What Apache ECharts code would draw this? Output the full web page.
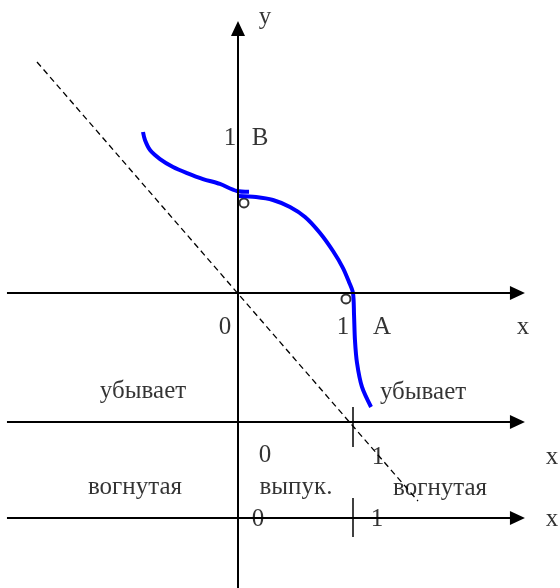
<!DOCTYPE html>
<html>
<head>
<meta charset="utf-8">
<script src="https://cdn.jsdelivr.net/npm/echarts@6/dist/echarts.min.js"></script>
<style>
  html, body { margin: 0; padding: 0; background: #fff; }
  #main { width: 560px; height: 588px; }
</style>
</head>
<body>
<div id="main"></div>
<script>
// picture scale: 1 unit = 115 px, origin of the main axes at (238, 293)
var UNIT = 115;
var ORIGIN = [238, 293];
var W = 560, H = 588;

// curve branches (x, y)
var leftBranch = [
    [-0.826, 1.400], [-0.809, 1.330], [-0.765, 1.243], [-0.678, 1.165],
    [-0.565, 1.096], [-0.443, 1.043], [-0.304, 0.991], [-0.157, 0.948],
    [-0.009, 0.887], [0.096, 0.880]
];
var rightBranch = [
    [0, 0.843], [0.157, 0.835], [0.304, 0.809], [0.452, 0.748],
    [0.583, 0.661], [0.713, 0.522], [0.826, 0.365], [0.913, 0.217],
    [0.965, 0.096], [1.0, 0], [1.009, -0.191], [1.017, -0.409],
    [1.035, -0.609], [1.078, -0.817], [1.157, -0.991]
];
// open circles
var holes = [[0.052, 0.783], [0.939, -0.052]];
// asymptote y = -x (as drawn)
var asymptote = [[-1.748, 2.009], [1.565, -1.809]];

// axes: main, sign row of y', sign row of y''
var axisRows = [0, -1.122, -1.957];
var axisLeft = -2.009;
var axisRight = 2.43;
var yAxisTop = 2.3;
var tickRows = [[-0.991, -1.339], [-1.783, -2.122]];

// text labels [x, y, text]
var labels = [
    [0.235, 2.40, 'y'],
    [-0.070, 1.348, '1'], [0.191, 1.348, 'B'],
    [-0.113, -0.296, '0'], [0.913, -0.296, '1'], [1.252, -0.296, 'A'], [2.478, -0.296, 'x'],
    [-0.826, -0.852, 'убывает'], [1.609, -0.861, 'убывает'],
    [0.235, -1.409, '0'], [1.217, -1.426, '1'], [2.730, -1.426, 'x'],
    [-0.896, -1.687, 'вогнутая'], [0.504, -1.687, 'выпук.'], [1.757, -1.696, 'вогнутая'],
    [0.174, -1.965, '0'], [1.209, -1.965, '1'], [2.730, -1.965, 'x']
];

var axisLines = axisRows.map(function (y) {
    return [{ coord: [axisLeft, y] }, { coord: [axisRight, y] }];
});
axisLines.push([{ coord: [0, -(H - ORIGIN[1]) / UNIT] }, { coord: [0, yAxisTop] }]);

var tickLines = tickRows.map(function (t) {
    return [{ coord: [1, t[0]] }, { coord: [1, t[1]] }];
});

var chart = echarts.init(document.getElementById('main'));
var option = {
    animation: false,
    grid: { left: 0, right: 0, top: 0, bottom: 0 },
    xAxis: {
        type: 'value',
        min: -ORIGIN[0] / UNIT,
        max: (W - ORIGIN[0]) / UNIT,
        show: false
    },
    yAxis: {
        type: 'value',
        min: -(H - ORIGIN[1]) / UNIT,
        max: ORIGIN[1] / UNIT,
        show: false
    },
    series: [
        {
            name: 'asymptote',
            type: 'line',
            data: asymptote,
            symbol: 'none',
            silent: true,
            lineStyle: { color: '#000', width: 1.3, type: [6, 4] }
        },
        {
            name: 'axes',
            type: 'line',
            data: [],
            silent: true,
            markLine: {
                silent: true,
                animation: false,
                symbol: ['none', 'triangle'],
                symbolSize: [14, 15],
                label: { show: false },
                lineStyle: { color: '#000', width: 2, type: 'solid' },
                emphasis: { disabled: true },
                data: axisLines
            }
        },
        {
            name: 'ticks',
            type: 'line',
            data: [],
            silent: true,
            markLine: {
                silent: true,
                animation: false,
                symbol: ['none', 'none'],
                label: { show: false },
                lineStyle: { color: '#000', width: 1.5, type: 'solid' },
                emphasis: { disabled: true },
                data: tickLines
            }
        },
        {
            name: 'left',
            type: 'line',
            data: leftBranch,
            smooth: 0.3,
            symbol: 'none',
            silent: true,
            lineStyle: { color: '#0000ff', width: 4 }
        },
        {
            name: 'right',
            type: 'line',
            data: rightBranch,
            smooth: 0.3,
            symbol: 'none',
            silent: true,
            lineStyle: { color: '#0000ff', width: 4 }
        },
        {
            name: 'holes',
            type: 'scatter',
            data: holes,
            symbol: 'emptyCircle',
            symbolSize: 9,
            silent: true,
            itemStyle: { color: '#000', borderWidth: 1.5 }
        },
        {
            name: 'labels',
            type: 'scatter',
            data: labels,
            symbolSize: 0,
            silent: true,
            z: 10,
            label: {
                show: true,
                position: 'inside',
                formatter: function (p) { return p.data[2]; },
                fontFamily: 'Liberation Serif',
                fontSize: 25,
                color: '#000',
                textBorderWidth: 0
            }
        }
    ]
};
chart.setOption(option);
</script>
</body>
</html>
